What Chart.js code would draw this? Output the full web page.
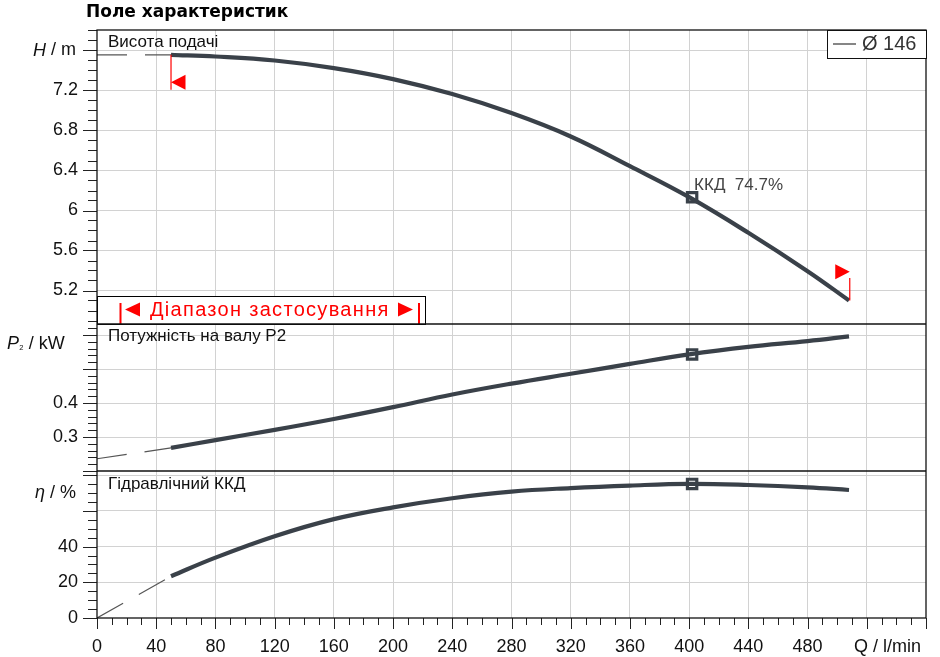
<!DOCTYPE html>
<html>
<head>
<meta charset="utf-8">
<title>Поле характеристик</title>
<script src="https://cdn.jsdelivr.net/npm/chart.js@4.4.1/dist/chart.umd.min.js"></script>
<style>
  html, body { margin: 0; padding: 0; background: #fff; }
  #wrap { width: 940px; height: 657px; }
</style>
</head>
<body>
<div id="wrap"><canvas id="pumpChart" width="940" height="657"></canvas></div>
<script>
// flow points, l/min
var flow  = [50, 80, 120, 160, 200, 240, 280, 320, 360, 400, 440, 480, 508];
var head  = [7.557, 7.54, 7.50, 7.424, 7.314, 7.164, 6.974, 6.74, 6.443, 6.133, 5.777, 5.393, 5.10];
var power = [0.268, 0.291, 0.321, 0.353, 0.388, 0.425, 0.457, 0.486, 0.515, 0.543, 0.565, 0.582, 0.596];
var effic = [23.4, 33.8, 45.8, 55.4, 62.0, 67.1, 70.8, 72.8, 74.2, 75.1, 74.5, 73.2, 71.7];

// dashed extension below the minimum flow
var dashFlow  = [0, 50];
var headDash  = [7.557, 7.557];
var powerDash = [0.236, 0.268];
var effDash   = [0, 23.4];

// best efficiency point
var bepFlow = [402];
var bepHead = [6.133];
var bepPower = [0.543];
var bepEff = [75.1];

// application range markers (flow, head at tip / line ends)
var rangeFlow = [50, 508.5];
var rangeArrowHead = [7.282, 5.388];
var rangeLineTop = [7.557, 5.325];
var rangeLineBot = [7.207, 5.10];

// axis ticks
var flowLabels  = [0, 40, 80, 120, 160, 200, 240, 280, 320, 360, 400, 440, 480];
var flowGrid    = [40, 80, 120, 160, 200, 240, 280, 320, 360, 400, 440, 480, 520];
var headLabels  = [5.2, 5.6, 6, 6.4, 6.8, 7.2];
var headGrid    = [5.2, 5.6, 6, 6.4, 6.8, 7.2, 7.6];
var powerLabels = [0.3, 0.4];
var powerGrid   = [0.3, 0.4, 0.5, 0.6];
var effLabels   = [0, 20, 40];
var effGrid     = [20, 40, 60, 80];

var LINE = '#3a4149';
var GRID = '#d2d2d2';
var FONT = '"Liberation Sans", Arial, sans-serif';

function pts(xs, ys) {
    return xs.map(function(x, i) { return {x: x, y: ys[i]}; });
}

function has(list, v) {
    return list.some(function(g) { return Math.abs(g - v) < 1e-9; });
}

function setTicks(values) {
    return function(scale) {
        scale.ticks = values.map(function(v) { return {value: v}; });
    };
}

function labelIf(list) {
    return function(value) {
        return has(list, value) ? String(value) : '';
    };
}

function gridIf(list) {
    return function(c) {
        if (!c.tick) return 'rgba(0,0,0,0)';
        return has(list, c.tick.value) ? GRID : 'rgba(0,0,0,0)';
    };
}

function yAxis(min, max, weight, grid, labels) {
    var all = grid.concat(labels.filter(function(v) { return !has(grid, v); }));
    all.sort(function(p, q) { return p - q; });
    return {
        type: 'linear',
        position: 'left',
        stack: 'panels',
        stackWeight: weight,
        min: min,
        max: max,
        offset: false,
        border: {display: false},
        grid: {color: gridIf(grid), lineWidth: 1, drawTicks: false},
        ticks: {
            color: '#111',
            padding: 19,
            autoSkip: false,
            font: {family: FONT, size: 18},
            callback: labelIf(labels)
        },
        afterBuildTicks: setTicks(all),
        afterFit: function(s) { s.width = 97; s.paddingTop = 0; s.paddingBottom = 0; }
    };
}

function mainLine(ys, axis) {
    return {
        data: pts(flow, ys),
        yAxisID: axis,
        borderColor: LINE,
        borderWidth: 4.2,
        pointRadius: 0,
        tension: 0.4,
        fill: false
    };
}

function dashLine(ys, axis) {
    return {
        data: pts(dashFlow, ys),
        yAxisID: axis,
        borderColor: '#555',
        borderWidth: 1.2,
        borderDash: [30, 18],
        pointRadius: 0,
        fill: false
    };
}

function bepPoint(ys, axis) {
    return {
        data: pts(bepFlow, ys),
        yAxisID: axis,
        showLine: false,
        pointStyle: 'rect',
        pointRadius: 6.6,
        pointBorderWidth: 3.2,
        pointBorderColor: LINE,
        pointBackgroundColor: '#fff'
    };
}

function tri(ctx, tx, ty, dir, w, h) {
    ctx.beginPath();
    ctx.moveTo(tx, ty);
    ctx.lineTo(tx - dir * w, ty - h / 2);
    ctx.lineTo(tx - dir * w, ty + h / 2);
    ctx.closePath();
    ctx.fill();
}

function minorTicks(ctx, scale, step, major, left) {
    var k0 = Math.ceil(scale.min / step - 1e-9);
    for (var k = k0; k * step <= scale.max + 1e-9; k++) {
        var v = k * step;
        var r = v / major;
        var isMajor = Math.abs(r - Math.round(r)) < 1e-6;
        var y = Math.round(scale.getPixelForValue(v)) + 0.5;
        ctx.beginPath();
        ctx.moveTo(left - (isMajor ? 14 : 9), y);
        ctx.lineTo(left, y);
        ctx.stroke();
    }
}

var decor = {
    id: 'decor',
    afterDraw: function(chart) {
        var ctx = chart.ctx, a = chart.chartArea, sx = chart.scales.x;
        var sH = chart.scales.yH, sP = chart.scales.yP, sE = chart.scales.yE;
        ctx.save();

        // tick marks
        ctx.strokeStyle = '#222';
        ctx.lineWidth = 1;
        minorTicks(ctx, sH, 0.1, 0.4, a.left);
        minorTicks(ctx, sP, 0.02, 0.1, a.left);
        minorTicks(ctx, sE, 5, 20, a.left);
        for (var q = 0; q <= sx.max; q += 10) {
            var px = Math.round(sx.getPixelForValue(q)) + 0.5;
            ctx.beginPath();
            ctx.moveTo(px, a.bottom);
            ctx.lineTo(px, a.bottom + (q % 40 === 0 ? 11 : 7));
            ctx.stroke();
        }

        // application range markers
        ctx.fillStyle = '#ff0000';
        ctx.strokeStyle = '#ff0000';
        ctx.lineWidth = 1.2;
        for (var i = 0; i < rangeFlow.length; i++) {
            var rx = sx.getPixelForValue(rangeFlow[i]);
            ctx.beginPath();
            ctx.moveTo(rx, sH.getPixelForValue(rangeLineTop[i]));
            ctx.lineTo(rx, sH.getPixelForValue(rangeLineBot[i]));
            ctx.stroke();
            tri(ctx, rx, sH.getPixelForValue(rangeArrowHead[i]), i === 0 ? -1 : 1, 14.5, 15);
        }

        // range label box
        var bx = a.left, bw = 328, bb = sH.bottom, bt = bb - 28;
        ctx.fillStyle = '#fff';
        ctx.fillRect(bx, bt, bw, bb - bt);
        ctx.strokeStyle = '#000';
        ctx.lineWidth = 1;
        ctx.strokeRect(bx + 0.5, bt + 0.5, bw, bb - bt);
        ctx.fillStyle = '#ff0000';
        ctx.fillRect(bx + 22.5, bb - 21, 2, 21);
        ctx.fillRect(bx + 321, bb - 21, 2, 21);
        tri(ctx, bx + 28, bb - 14.5, -1, 15, 14);
        tri(ctx, bx + 316, bb - 14.5, 1, 15, 14);
        ctx.font = '20px ' + FONT;
        ctx.textBaseline = 'middle';
        ctx.textAlign = 'left';
        ctx.letterSpacing = '1.3px';
        ctx.fillText('Діапазон застосування', bx + 53, bb - 14);
        ctx.letterSpacing = '0px';

        // frame and panel separators
        ctx.strokeStyle = '#111';
        ctx.lineWidth = 1.3;
        ctx.strokeRect(a.left, a.top, a.right - a.left, a.bottom - a.top);
        [sH.bottom, sP.bottom].forEach(function(y) {
            ctx.beginPath();
            ctx.moveTo(a.left, y);
            ctx.lineTo(a.right, y);
            ctx.stroke();
        });

        // legend box
        ctx.fillStyle = '#fff';
        ctx.fillRect(a.right - 99, a.top, 99, 28);
        ctx.lineWidth = 1;
        ctx.strokeRect(a.right - 99 + 0.5, a.top + 0.5, 99, 28);
        ctx.strokeStyle = '#444';
        ctx.lineWidth = 1.3;
        ctx.beginPath();
        ctx.moveTo(a.right - 93, a.top + 14);
        ctx.lineTo(a.right - 70, a.top + 14);
        ctx.stroke();
        ctx.fillStyle = '#333';
        ctx.font = '20px ' + FONT;
        ctx.fillText('Ø 146', a.right - 64, a.top + 14);

        // panel captions
        ctx.fillStyle = '#111';
        ctx.font = '17px ' + FONT;
        ctx.fillText('Висота подачі', a.left + 11, a.top + 12);
        ctx.fillText('Потужність на валу P2', a.left + 11, sH.bottom + 12);
        ctx.fillText('Гідравлічний ККД', a.left + 11, sP.bottom + 13);
        ctx.fillStyle = '#444';
        ctx.fillText('ККД  74.7%', sx.getPixelForValue(bepFlow[0]) + 2, sH.getPixelForValue(bepHead[0]) - 12);

        // axis titles
        ctx.fillStyle = '#111';
        function title(x, y, parts) {
            parts.forEach(function(p) {
                ctx.font = p[1];
                ctx.fillText(p[0], x, y + (p[2] || 0));
                x += ctx.measureText(p[0]).width;
            });
        }
        var it = 'italic 18px ' + FONT, nm = '18px ' + FONT;
        title(33, sH.getPixelForValue(7.6), [['H', it], [' / m', nm]]);
        title(7, sP.top + 20, [['P', it], ['₂', '12px ' + FONT, 2], [' / kW', nm]]);
        title(35, sE.getPixelForValue(70), [['η', it], [' / %', nm]]);
        title(a.right - 72, a.bottom + 29, [['Q', nm], [' / l/min', nm]]);

        // chart title
        ctx.fillStyle = '#000';
        ctx.font = 'bold 17px "DejaVu Sans", Verdana, sans-serif';
        ctx.fillText('Поле характеристик', 86, 13);
        ctx.restore();
    }
};

var ctx = document.getElementById('pumpChart').getContext('2d');
var pumpChart = new Chart(ctx, {
    type: 'line',
    data: {
        datasets: [
            mainLine(head, 'yH'), dashLine(headDash, 'yH'), bepPoint(bepHead, 'yH'),
            mainLine(power, 'yP'), dashLine(powerDash, 'yP'), bepPoint(bepPower, 'yP'),
            mainLine(effic, 'yE'), dashLine(effDash, 'yE'), bepPoint(bepEff, 'yE')
        ]
    },
    options: {
        responsive: false,
        animation: false,
        events: [],
        layout: {padding: {top: 30, right: 14, bottom: 0, left: 0}},
        plugins: {
            legend: {display: false},
            title: {display: false},
            tooltip: {enabled: false}
        },
        scales: {
            x: {
                type: 'linear',
                min: 0,
                max: 560,
                border: {display: false},
                grid: {color: gridIf(flowGrid), lineWidth: 1, drawTicks: false},
                ticks: {
                    color: '#111',
                    padding: 18,
                    maxRotation: 0,
                    autoSkip: false,
                    font: {family: FONT, size: 18},
                    callback: labelIf(flowLabels)
                },
                afterBuildTicks: setTicks(flowLabels.concat([520, 560])),
                afterFit: function(s) { s.height = 39; s.paddingLeft = 0; s.paddingRight = 0; }
            },
            yE: yAxis(0, 82.35, 1, effGrid, effLabels),
            yP: yAxis(0.2, 0.6324, 1, powerGrid, powerLabels),
            yH: yAxis(4.865, 7.805, 2, headGrid, headLabels)
        }
    },
    plugins: [decor]
});
</script>
</body>
</html>
